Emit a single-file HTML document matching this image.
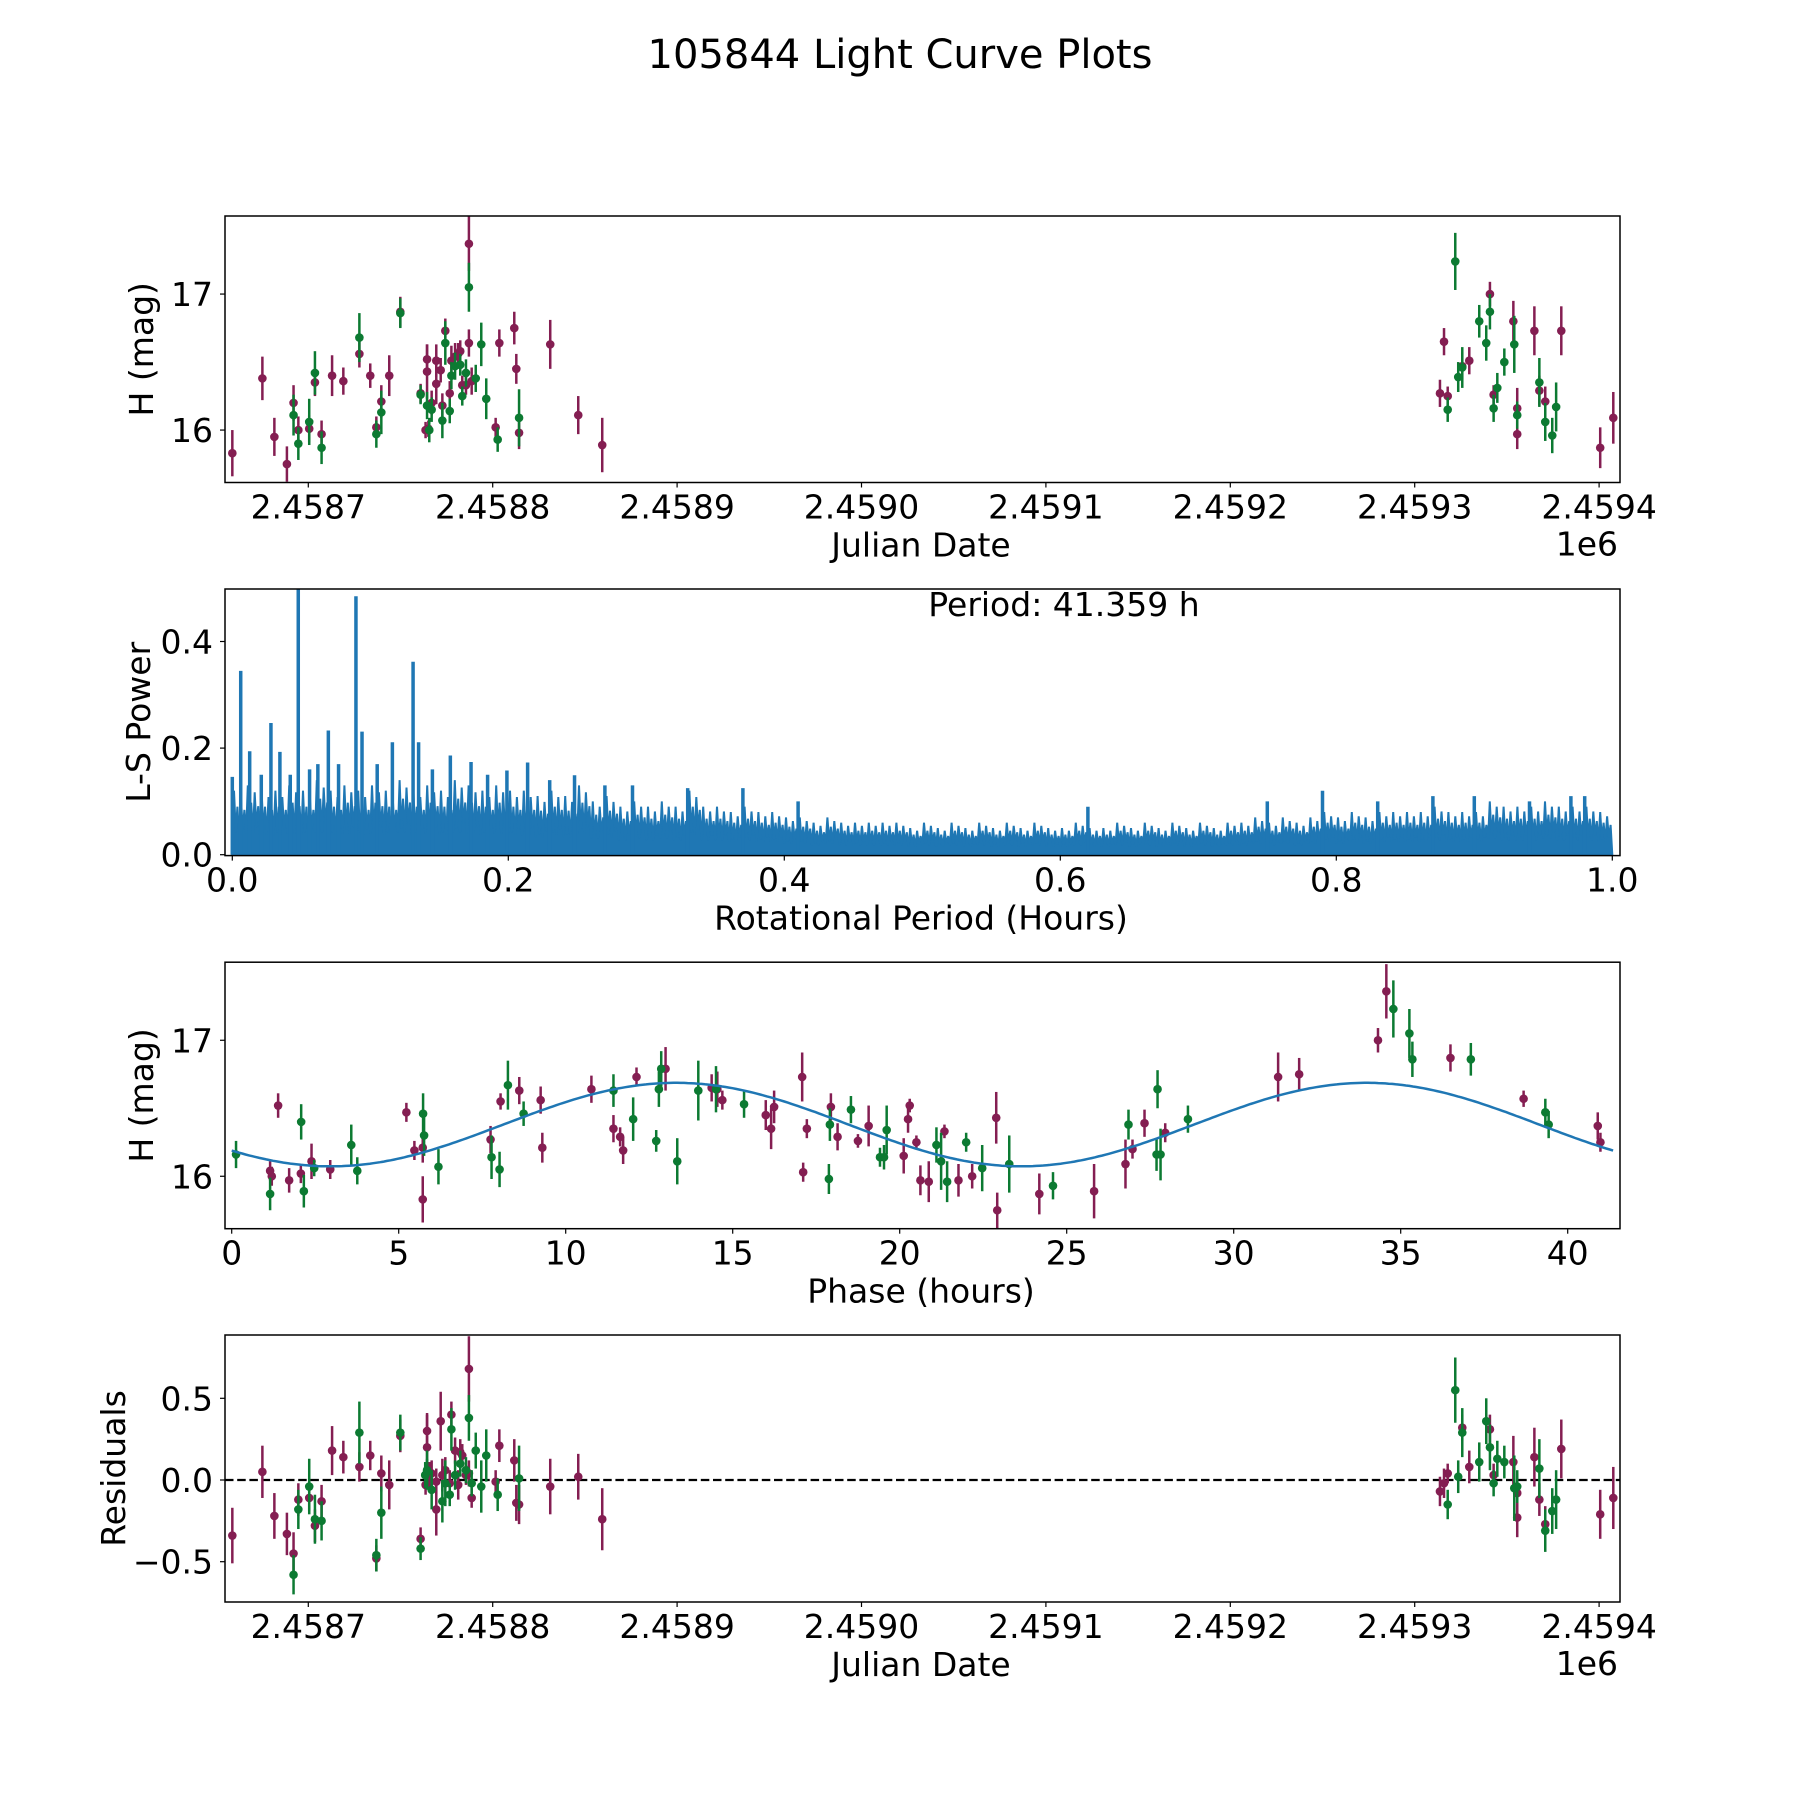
<!DOCTYPE html>
<html><head><meta charset="utf-8"><title>105844 Light Curve Plots</title>
<style>html,body{margin:0;padding:0;background:#fff}svg{display:block}text{font-family:"DejaVu Sans","Liberation Sans",sans-serif;fill:#000}</style>
</head><body>
<svg id="fig" xmlns="http://www.w3.org/2000/svg" width="1800" height="1800" viewBox="0 0 1800 1800">
<rect x="0" y="0" width="1800" height="1800" fill="#fff"/>
<text x="900" y="68" font-size="40" text-anchor="middle">105844 Light Curve Plots</text>
<g id="p1"></g>
<g id="p2"></g>
<g id="p3"></g>
<g id="p4"></g>
</svg>
<script>
// ===== data =====
const JD0 = 2458700;
const p1Days = [-41.2,-24.9,-18.4,-11.6,-8.0,-8.0,-5.4,-5.4,0.5,0.5,3.6,3.6,7.2,7.2,12.9,19.0,27.7,27.7,33.6,36.9,36.9,39.6,39.6,43.9,49.9,49.9,60.9,60.9,64.4,64.4,64.4,63.6,65.6,65.1,66.9,66.9,69.4,69.4,71.8,72.7,72.7,74.3,74.3,76.7,76.7,77.6,77.6,79.6,79.6,81.3,82.4,82.4,83.5,83.5,85.5,85.5,87.1,87.1,87.1,88.6,90.8,93.8,96.5,101.6,102.7,103.6,111.7,112.8,114.3,114.3,131.2,146.4,159.4,
613.7,617.9,617.9,615.9,622.0,623.6,625.8,625.8,629.6,635.0,638.8,640.8,640.8,642.8,642.8,644.8,648.6,653.5,654.0,655.6,655.6,655.6,664.9,667.6,667.6,670.8,670.8,674.6,676.7,679.5,700.6,707.7];
const p1Mag = [15.83,16.38,15.95,15.75,16.20,16.11,16.00,15.90,16.06,16.01,16.42,16.35,15.97,15.87,16.40,16.36,16.68,16.56,16.40,16.02,15.97,16.21,16.13,16.40,16.87,16.86,16.27,16.26,16.52,16.43,16.18,16.00,16.00,16.01,16.20,16.15,16.51,16.34,16.44,16.18,16.07,16.73,16.64,16.27,16.14,16.51,16.40,16.54,16.47,16.56,16.58,16.48,16.25,16.33,16.42,16.33,17.37,17.05,16.64,16.36,16.38,16.63,16.23,16.02,15.93,16.64,16.75,16.45,16.09,15.98,16.63,16.11,15.89,
16.27,16.25,16.15,16.65,17.24,16.39,16.47,16.46,16.51,16.80,16.64,17.00,16.87,16.26,16.16,16.31,16.50,16.80,16.63,16.16,16.11,15.97,16.73,16.35,16.29,16.21,16.06,15.96,16.17,16.73,15.87,16.09];
const p1Err = [.17,.16,.14,.13,.13,.15,.10,.12,.17,.10,.16,.10,.10,.12,.15,.10,.18,.10,.09,.08,.10,.12,.16,.15,.11,.11,.07,.07,.11,.20,.10,.06,.09,.06,.09,.09,.12,.15,.09,.09,.13,.09,.16,.09,.09,.11,.10,.10,.10,.08,.08,.08,.07,.07,.10,.07,.20,.18,.10,.10,.10,.16,.15,.07,.09,.10,.12,.11,.21,.12,.18,.14,.20,
.10,.07,.09,.10,.21,.11,.10,.15,.10,.12,.13,.09,.13,.07,.10,.11,.10,.15,.21,.15,.10,.11,.18,.18,.11,.11,.14,.13,.18,.18,.15,.19];
const bandP1 = ['p','p','p','p','p','g','p','g','g','p','g','p','p','g','p','p','g','p','p','p','g','p','g','p','p','g','p','g','p','p','g','p','g','p','p','g','p','p','p','p','g','p','g','p','g','p','g','p','g','p','p','g','g','p','g','p','p','g','p','p','g','g','g','p','g','p','p','p','g','p','p','p','p',
'p','p','g','p','g','g','p','g','p','g','g','p','g','p','g','g','g','p','g','p','g','p','p','g','p','p','g','g','g','p','p','p'];

const p3Phase = [0.13,1.15,1.15,1.20,1.39,1.72,2.07,2.08,2.16,2.39,2.47,2.95,3.58,3.76,5.23,5.47,5.72,5.72,5.73,5.76,6.19,7.75,7.78,8.02,8.05,8.27,8.61,8.74,9.25,9.30,10.77,11.43,11.43,11.63,11.72,12.02,12.12,12.71,12.79,12.86,12.99,13.34,13.97,14.37,14.50,14.54,14.69,15.34,15.99,16.15,16.24,17.08,17.11,17.22,17.88,17.91,17.94,18.14,18.54,18.75,19.07,19.41,19.53,19.61,20.12,20.25,20.30,20.50,20.62,
20.87,21.10,21.24,21.34,21.42,21.76,21.99,22.17,22.47,22.89,22.92,23.28,24.18,24.59,25.82,26.76,26.85,26.97,27.33,27.69,27.72,27.81,27.95,28.63,31.33,31.96,34.32,34.57,34.78,35.26,35.35,36.49,37.10,38.68,39.33,39.43,40.90,40.98];
const p3Mag = [16.16,16.04,15.87,16.00,16.52,15.97,16.02,16.40,15.89,16.11,16.06,16.05,16.23,16.04,16.47,16.19,16.21,15.83,16.46,16.30,16.07,16.27,16.14,16.05,16.55,16.67,16.63,16.46,16.56,16.21,16.64,16.63,16.35,16.29,16.19,16.42,16.73,16.26,16.64,16.79,16.79,16.11,16.63,16.65,16.64,16.64,16.56,16.53,16.45,16.35,16.51,16.73,16.03,16.35,15.98,16.38,16.51,16.29,16.49,16.26,16.37,16.14,16.14,16.34,16.15,16.42,16.52,16.25,15.97,
15.96,16.23,16.11,16.33,15.96,15.97,16.25,16.00,16.06,16.43,15.75,16.09,15.87,15.93,15.89,16.09,16.38,16.20,16.39,16.16,16.64,16.16,16.32,16.42,16.73,16.75,17.00,17.36,17.23,17.05,16.86,16.87,16.86,16.57,16.47,16.38,16.37,16.25];
const p3Err = [.10,.07,.12,.07,.09,.09,.07,.13,.12,.13,.06,.07,.15,.10,.07,.07,.11,.17,.15,.15,.13,.10,.16,.13,.06,.18,.10,.09,.10,.11,.10,.12,.10,.07,.10,.16,.07,.08,.13,.13,.16,.17,.22,.10,.17,.13,.07,.10,.11,.15,.12,.18,.07,.07,.11,.12,.10,.10,.10,.05,.15,.07,.09,.18,.13,.10,.05,.05,.11,
.15,.13,.21,.05,.15,.12,.07,.09,.17,.19,.13,.21,.15,.10,.20,.18,.11,.07,.10,.12,.14,.19,.07,.10,.18,.12,.09,.20,.21,.18,.13,.10,.12,.06,.10,.10,.10,.07];
const p3Band = ['g','p','g','p','p','p','p','g','g','p','g','p','g','g','p','p','p','p','g','g','g','p','g','g','p','g','p','g','p','p','p','g','p','p','p','g','p','g','g','g','p','g','g','p','g','p','p','g','p','p','p','p','p','p','g','g','p','p','g','p','p','g','g','g','p','p','p','p','p',
'p','g','g','p','g','p','g','p','g','p','p','g','p','g','p','p','g','p','p','g','g','g','p','g','p','p','p','p','g','g','g','p','g','p','g','g','p','p'];

const p4Days = [-41.2,-24.9,-18.4,-11.6,-8.0,-8.0,-5.4,-5.4,0.5,0.5,3.6,3.6,7.2,7.2,12.9,19.0,27.7,27.7,33.6,36.9,36.9,39.6,39.6,43.9,49.9,49.9,60.9,60.9,64.4,64.4,64.4,64.4,63.6,65.6,63.4,66.9,66.9,69.4,69.4,71.8,72.7,72.7,74.3,74.3,76.7,76.7,77.6,77.6,79.6,79.6,81.3,82.4,82.4,83.5,85.5,85.5,87.1,87.1,87.1,88.6,88.6,90.8,93.8,96.5,101.6,102.7,103.6,111.7,112.8,114.3,114.3,131.2,146.4,159.4,
613.7,615.9,617.9,617.9,622.0,623.6,625.8,625.8,629.6,635.0,638.8,640.8,640.8,642.8,642.8,644.8,648.6,653.5,654.0,655.6,655.6,655.6,664.9,667.6,667.6,670.8,670.8,674.6,676.7,679.5,700.6,707.7];
const p4Res = [-0.34,0.05,-0.22,-0.33,-0.45,-0.58,-0.12,-0.18,-0.04,-0.11,-0.24,-0.28,-0.13,-0.25,0.18,0.14,0.29,0.08,0.15,-0.46,-0.48,0.04,-0.20,-0.03,0.29,0.27,-0.36,-0.42,0.30,0.20,0.06,0.05,-0.03,0.03,0.03,0.04,-0.06,-0.01,-0.18,0.36,0.03,-0.13,0.06,-0.02,-0.02,-0.09,0.40,0.31,0.18,0.03,-0.03,0.17,0.10,0.15,0.06,0.03,0.68,0.38,0.04,-0.02,-0.11,0.18,-0.04,0.15,-0.01,-0.09,0.21,0.12,-0.14,0.01,-0.15,-0.04,0.02,-0.24,
-0.07,-0.02,0.04,-0.15,0.55,0.02,0.32,0.29,0.08,0.11,0.36,0.31,0.20,0.03,-0.02,0.13,0.11,0.11,-0.05,-0.08,-0.04,-0.23,0.14,0.07,-0.12,-0.27,-0.31,-0.19,-0.12,0.19,-0.21,-0.11];
const p4Err = [.17,.16,.14,.13,.13,.12,.10,.12,.17,.08,.15,.10,.10,.12,.15,.10,.19,.09,.09,.10,.08,.11,.16,.15,.11,.10,.07,.07,.11,.20,.12,.08,.06,.08,.08,.08,.12,.08,.16,.18,.10,.13,.08,.14,.08,.07,.08,.13,.08,.09,.09,.08,.08,.07,.08,.06,.20,.14,.08,.08,.06,.11,.16,.16,.07,.10,.10,.13,.11,.20,.12,.17,.14,.19,
.09,.09,.06,.09,.20,.10,.08,.15,.10,.12,.14,.09,.14,.07,.08,.11,.10,.16,.20,.12,.10,.12,.18,.18,.10,.11,.13,.14,.18,.18,.15,.19];
const p4Band = ['p','p','p','p','p','g','p','g','g','p','g','p','p','g','p','p','g','p','p','g','p','p','g','p','g','p','p','g','p','p','g','g','p','p','g','p','g','p','p','p','p','g','p','g','p','g','p','g','p','g','p','p','g','p','g','p','p','g','p','g','p','g','g','g','p','g','p','p','p','g','p','p','p','p',
'p','p','p','g','g','g','p','g','p','g','g','p','g','p','g','g','g','p','g','p','g','p','p','g','p','p','g','g','g','p','p','p'];

// periodogram: local max power per 0.01-hour bin, and notable peaks
const lsBinPower = [0.12,0.13,0.12,0.12,0.13,0.12,0.14,0.12,0.13,0.12,
0.13,0.12,0.14,0.12,0.13,0.12,0.14,0.13,0.12,0.13,
0.12,0.12,0.11,0.12,0.11,0.13,0.10,0.11,0.09,0.10,
0.09,0.10,0.09,0.12,0.09,0.09,0.08,0.09,0.08,0.08,
0.07,0.07,0.06,0.07,0.06,0.06,0.06,0.06,0.06,0.05,
0.06,0.05,0.06,0.05,0.06,0.05,0.06,0.05,0.06,0.05,
0.05,0.06,0.05,0.05,0.06,0.05,0.06,0.05,0.06,0.05,
0.06,0.05,0.06,0.06,0.07,0.06,0.07,0.06,0.07,0.08,
0.07,0.08,0.07,0.08,0.08,0.08,0.08,0.09,0.08,0.08,
0.08,0.10,0.09,0.09,0.09,0.10,0.09,0.09,0.09,0.08];
const lsPeakPeriod = [0.0,0.0061,0.0126,0.021,0.028,0.0345,0.042,0.0478,0.056,0.062,0.0696,0.077,0.0896,0.094,0.105,0.116,0.131,0.135,0.145,0.158,0.173,0.185,0.199,0.214,0.23,0.248,0.27,0.29,0.33,0.37,0.41,0.62,0.75,0.79,0.83,0.87,0.9,0.94,0.97,0.98];
const lsPeakPower = [0.146,0.345,0.194,0.15,0.247,0.193,0.15,0.60,0.16,0.17,0.233,0.17,0.485,0.231,0.17,0.211,0.362,0.211,0.16,0.186,0.174,0.15,0.158,0.173,0.14,0.149,0.13,0.13,0.125,0.125,0.10,0.09,0.10,0.12,0.10,0.11,0.11,0.10,0.11,0.11];

// model fit
const fitMean = 16.38, fitAmp = 0.307, fitPeak = 13.3, fitHalfPeriod = 20.68, fitMaxPhase = 41.36;

// ===== drawing =====
const NS = "http://www.w3.org/2000/svg";
const COL = {p:"#841e52", g:"#0c7a32"};
const FS = 33;
function mk(parent, tag, attrs, txt){
  const e = document.createElementNS(NS, tag);
  for (const k in attrs) e.setAttribute(k, attrs[k]);
  if (txt !== undefined) e.textContent = txt;
  parent.appendChild(e); return e;
}
const L = 225, R = 1620;
function frame(g, top, bot){
  const r = mk(g, "rect", {x:L, y:top, width:R-L, height:bot-top, fill:"none", stroke:"#000", "stroke-width":1.5});
  
  
}
function xTicks(g, bot, vals, labels, fx){
  vals.forEach((v,i)=>{
    const x = fx(v);
    mk(g,"line",{x1:x,x2:x,y1:bot,y2:bot+5,stroke:"#000","stroke-width":1.2});
    const t = mk(g,"text",{x:x,y:bot+36,"font-size":FS,"text-anchor":"middle"},labels[i]);
    
    
  });
}
function yTicks(g, vals, labels, fy){
  vals.forEach((v,i)=>{
    const y = fy(v);
    mk(g,"line",{x1:L-5,x2:L,y1:y,y2:y,stroke:"#000","stroke-width":1.2});
    const t = mk(g,"text",{x:213,y:y+12,"font-size":FS,"text-anchor":"end"},labels[i]);
    
    
  });
}
function label(g, x, y, txt, rot, name){
  const t = mk(g,"text",{x:x,y:y,"font-size":FS,"text-anchor":"middle",transform: rot?`rotate(-90 ${x} ${y})`:""},txt);
  
  
}
function errPoints(g, xs, ys, es, bands, fx, fy, ky, name){
  ['p','g'].forEach(b=>{
    for (let i=0;i<xs.length;i++){
      if (bands[i]!==b) continue;
      const x = fx(xs[i]), y = fy(ys[i]), d = es[i]*ky;
      const ln = mk(g,"line",{x1:x,x2:x,y1:y-d,y2:y+d,stroke:COL[b],"stroke-width":2.5});
      
      
      const c = mk(g,"circle",{cx:x,cy:y,r:4.3,fill:COL[b]});
      
      
    }
  });
}
function clipFor(id, top, bot){
  const svg = document.getElementById("fig");
  let defs = svg.querySelector("defs"); if(!defs) defs = mk(svg,"defs",{});
  const cp = mk(defs,"clipPath",{id:id});
  mk(cp,"rect",{x:L,y:top,width:R-L,height:bot-top});
  return `url(#${id})`;
}

// Panel 1
(function(){
  const g = document.getElementById("p1"), top=216, bot=482.5;
  const fx = jd => 308.3 + (jd-2458700)*1.844;
  const fy = m => 216 + (17.574-m)*136;
  const gd = mk(g,"g",{"clip-path":clipFor("c1",top,bot)});
  errPoints(gd, p1Days.map(d=>JD0+d), p1Mag, p1Err, bandP1, fx, fy, 136, 'mag');
  frame(g,top,bot);
  const xv=[2458700,2458800,2458900,2459000,2459100,2459200,2459300,2459400];
  xTicks(g,bot,xv,["2.4587","2.4588","2.4589","2.4590","2.4591","2.4592","2.4593","2.4594"],fx);
  yTicks(g,[16,17],["16","17"],fy);
  label(g,921,bot+74,"Julian Date",false,"x-axis-title");
  const e = mk(g,"text",{x:1618,y:bot+73,"font-size":FS,"text-anchor":"end"},"1e6");
  
  
  label(g,153,(top+bot)/2,"H (mag)",true,"y-axis-title");
})();

// Panel 2
(function(){
  const g = document.getElementById("p2"), top=589, bot=855.6;
  const fx = p => 232.3 + p*1380;
  const fy = v => 854.7 - v*533;
  const gd = mk(g,"g",{"clip-path":clipFor("c2",top,bot)});
  let pts = [];
  lsBinPower.forEach((v,i)=>{
    const x0 = i*0.01;
    const sub = [[0,0.3],[0.0012,1.0],[0.0025,0.35],[0.0037,0.75],[0.005,0.3],[0.0062,0.9],[0.0075,0.4],[0.0088,0.7]];
    sub.forEach(s=>pts.push([fx(x0+s[0]), fy(v*s[1])]));
  });
  let d = `M${fx(0)},${fy(0)} ` + pts.map(p=>`L${p[0].toFixed(1)},${p[1].toFixed(1)}`).join(" ") + ` L${fx(1.0)},${fy(0)} Z`;
  const band = mk(gd,"path",{d:d,fill:"#1f77b4",stroke:"#1f77b4","stroke-width":2,"stroke-linejoin":"miter"});
  
  
  lsPeakPeriod.forEach((p,i)=>{
    const ln = mk(gd,"line",{x1:fx(p),x2:fx(p),y1:fy(0),y2:fy(lsPeakPower[i]),stroke:"#1f77b4","stroke-width":3.5});
    
    
  });
  frame(g,top,bot);
  xTicks(g,bot,[0,0.2,0.4,0.6,0.8,1.0],["0.0","0.2","0.4","0.6","0.8","1.0"],fx);
  yTicks(g,[0,0.2,0.4],["0.0","0.2","0.4"],fy);
  label(g,921,bot+74,"Rotational Period (Hours)",false,"x-axis-title");
  label(g,150,(top+bot)/2,"L-S Power",true,"y-axis-title");
  const t = mk(g,"text",{x:1064,y:616,"font-size":FS,"text-anchor":"middle"},"Period: 41.359 h");
  
  
})();

// Panel 3
(function(){
  const g = document.getElementById("p3"), top=962.2, bot=1228.7;
  const fx = p => 231.7 + p*33.4;
  const fy = m => top + (17.574-m)*136;
  const gd = mk(g,"g",{"clip-path":clipFor("c3",top,bot)});
  errPoints(gd, p3Phase, p3Mag, p3Err, p3Band, fx, fy, 136, 'phase');
  let d = "";
  for (let k=0;k<=400;k++){
    const ph = fitMaxPhase*k/400;
    const m = fitMean + fitAmp*Math.cos(2*Math.PI*(ph-fitPeak)/fitHalfPeriod);
    d += (k?"L":"M") + fx(ph).toFixed(1) + "," + fy(m).toFixed(1) + " ";
  }
  const c = mk(gd,"path",{d:d,fill:"none",stroke:"#1f77b4","stroke-width":2.5});
  
  
  frame(g,top,bot);
  xTicks(g,bot,[0,5,10,15,20,25,30,35,40],["0","5","10","15","20","25","30","35","40"],fx);
  yTicks(g,[16,17],["16","17"],fy);
  label(g,921,bot+74,"Phase (hours)",false,"x-axis-title");
  label(g,153,(top+bot)/2,"H (mag)",true,"y-axis-title");
})();

// Panel 4
(function(){
  const g = document.getElementById("p4"), top=1335, bot=1602;
  const fx = jd => 308.3 + (jd-2458700)*1.844;
  const fy = r => 1480 - r*163.4;
  const gd = mk(g,"g",{"clip-path":clipFor("c4",top,bot)});
  const zl = mk(gd,"line",{x1:L,x2:R,y1:fy(0),y2:fy(0),stroke:"#000","stroke-width":2.3,"stroke-dasharray":"8.5 3.7"});
  
  
  errPoints(gd, p4Days.map(d=>JD0+d), p4Res, p4Err, p4Band, fx, fy, 163.4, 'residual');
  frame(g,top,bot);
  const xv=[2458700,2458800,2458900,2459000,2459100,2459200,2459300,2459400];
  xTicks(g,bot,xv,["2.4587","2.4588","2.4589","2.4590","2.4591","2.4592","2.4593","2.4594"],fx);
  yTicks(g,[-0.5,0,0.5],["\u22120.5","0.0","0.5"],fy);
  label(g,921,bot+74,"Julian Date",false,"x-axis-title");
  const e = mk(g,"text",{x:1618,y:bot+73,"font-size":FS,"text-anchor":"end"},"1e6");
  
  
  label(g,125,(top+bot)/2,"Residuals",true,"y-axis-title");
})();
</script>
</body></html>
